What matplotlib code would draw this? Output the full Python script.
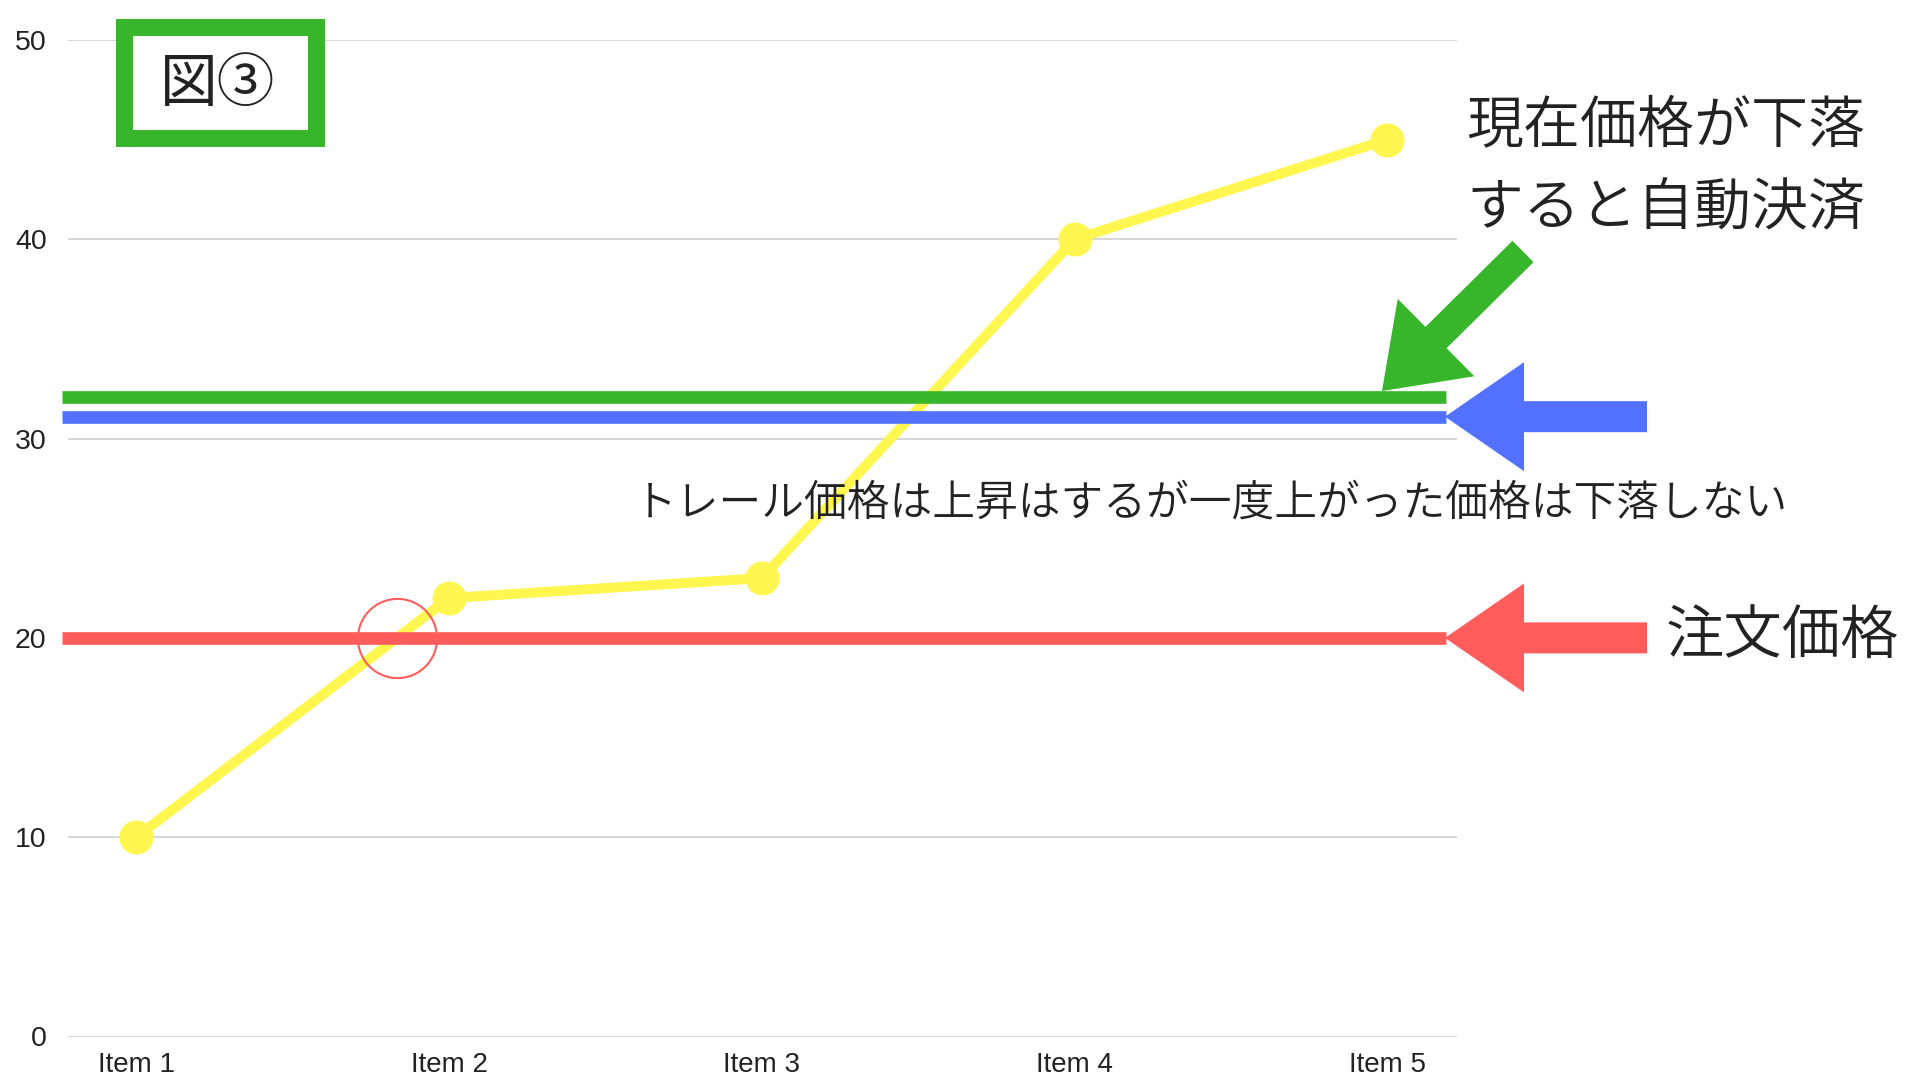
import matplotlib
matplotlib.use('Agg')
import matplotlib.pyplot as plt
from matplotlib.patches import Polygon, Rectangle
from matplotlib.transforms import Affine2D
import numpy as np

# ---- data ----
categories = ['Item 1', 'Item 2', 'Item 3', 'Item 4', 'Item 5']
current_price = [10, 22, 23, 40, 45]
settle_level = 32.1      # green line
trail_level = 31.1       # blue line
order_price = 20.0       # red line
y_ticks = [0, 10, 20, 30, 40, 50]

title_label = '図③'
label_settle = '現在価格が下落\nすると自動決済'
label_trail = 'トレール価格は上昇はするが一度上がった価格は下落しない'
label_order = '注文価格'

# ---- style ----
YELLOW = '#FFF650'
GREEN = '#37B62B'
BLUE = '#5271FF'
RED = '#FF5C5B'
TEXT = '#222222'
JP = ['Noto Sans CJK JP', 'DejaVu Sans']
JP_WEIGHT = 350

plt.rcParams['font.family'] = ['Liberation Sans', 'Noto Sans CJK JP', 'DejaVu Sans']

W, H = 1920, 1080
fig = plt.figure(figsize=(W / 100, H / 100), dpi=100)
fig.patch.set_facecolor('white')
# top-origin pixel transform for decorations
px = Affine2D().scale(1 / W, -1 / H).translate(0, 1) + fig.transFigure

AX_L, AX_R, AX_T, AX_B = 67.5, 1457, 40, 1036.5
ax = fig.add_axes([AX_L / W, 1 - AX_B / H, (AX_R - AX_L) / W, (AX_B - AX_T) / H])
x = np.arange(len(categories))
ax.set_xlim(-0.22, 4.223)
ax.set_ylim(0, 50)
for s in ax.spines.values():
    s.set_visible(False)
ax.set_yticks(y_ticks)
ax.set_yticklabels([str(v) for v in y_ticks])
ax.set_xticks(x)
ax.set_xticklabels(categories)
ax.tick_params(axis='y', length=0, labelsize=20.5, labelcolor=TEXT, pad=15)
ax.tick_params(axis='x', length=0, labelsize=20, labelcolor=TEXT, pad=11.5)
ax.yaxis.grid(True, color='#d3d3d3', lw=1.3)
ax.xaxis.grid(False)
ax.set_axisbelow(True)

# price series
ax.plot(x, current_price, color=YELLOW, lw=7.2, marker='o', ms=23.5,
        solid_capstyle='round', zorder=3)

# horizontal levels
for lvl, col in [(settle_level, GREEN), (trail_level, BLUE), (order_price, RED)]:
    ax.plot([-0.239, 4.188], [lvl, lvl], color=col, lw=9.1,
            solid_capstyle='butt', clip_on=False, zorder=4)

# circle where price crosses the order price
xc = (order_price - current_price[0]) / (current_price[1] - current_price[0])
ax.plot([xc], [order_price], marker='o', ms=57, mfc='none', mec=RED, mew=1.5,
        zorder=5, clip_on=False)


def arrow_poly(tail, tip, shaft_w, head_w, head_len):
    tail = np.array(tail, float)
    tip = np.array(tip, float)
    d = tip - tail
    L = np.hypot(*d)
    u = d / L
    n = np.array([-u[1], u[0]])
    base = tip - u * head_len
    pts = [tail + n * shaft_w / 2, base + n * shaft_w / 2, base + n * head_w / 2,
           tip, base - n * head_w / 2, base - n * shaft_w / 2, tail - n * shaft_w / 2]
    return np.array(pts)


def level_px(v):
    return H - ax.transData.transform((0, v))[1]


fig.canvas.draw()
# horizontal arrows (pixel coords, top origin)
for lvl, col in [(trail_level, BLUE), (order_price, RED)]:
    yy = level_px(lvl)
    poly = arrow_poly((1647, yy), (1445, yy), 31, 109, 79)
    fig.patches.append(Polygon(poly, closed=True, facecolor=col, edgecolor='none',
                               transform=px, figure=fig))
# diagonal green arrow
poly = arrow_poly((1523, 251.5), (1382, 391), 30, 109, 76)
fig.patches.append(Polygon(poly, closed=True, facecolor=GREEN, edgecolor='none',
                           transform=px, figure=fig))

# title box
fig.patches.append(Rectangle((123.7, 26.7), 316.2 - 123.7, 138 - 26.7,
                             facecolor='white', edgecolor=GREEN, lw=12.2,
                             joinstyle='miter', transform=px, figure=fig, zorder=2))
fig.text(218 / W, 1 - 85 / H, title_label, family=JP, fontsize=41.5,
         fontweight='normal', color=TEXT, ha='center', va='center', zorder=3)

# annotations
fig.text(1466 / W, 1 - 168 / H, label_settle, family=JP, fontsize=41,
         fontweight=JP_WEIGHT, color=TEXT, ha='left', va='center', linespacing=1.52)
fig.text(1666 / W, 1 - 638 / H, label_order, family=JP, fontsize=42,
         fontweight=JP_WEIGHT, color=TEXT, ha='left', va='center')
fig.text(634 / W, 1 - 503 / H, label_trail, family=JP, fontsize=30.8,
         fontweight=JP_WEIGHT, color=TEXT, ha='left', va='center', zorder=6)

fig.savefig('out.png', dpi=100, facecolor='white')
